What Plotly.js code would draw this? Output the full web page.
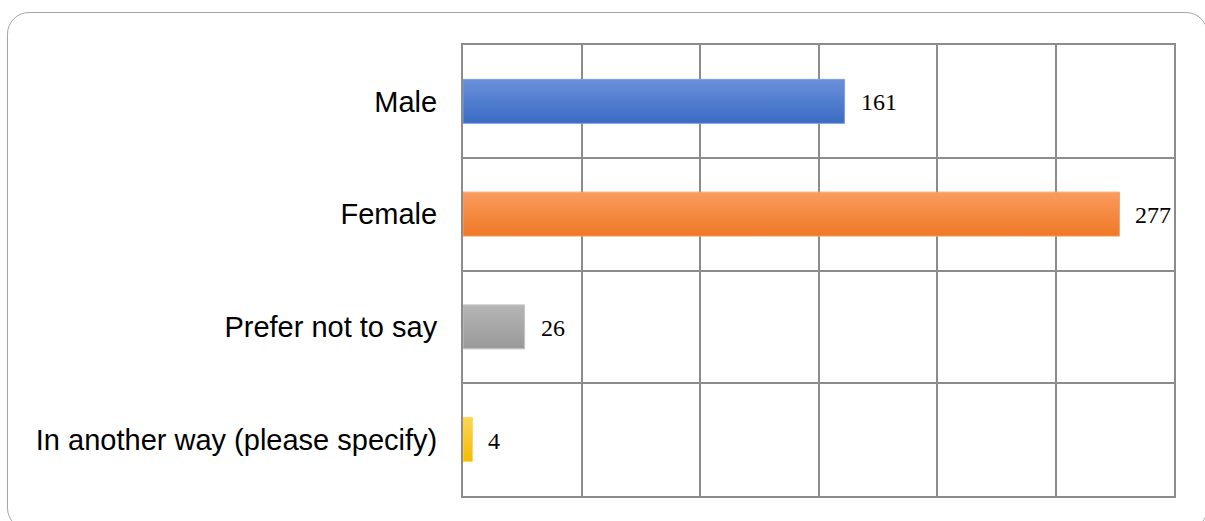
<!DOCTYPE html>
<html>
<head>
<meta charset="utf-8">
<script src="https://cdn.plot.ly/plotly-3.0.1.min.js"></script>
<style>
  html, body { margin: 0; padding: 0; background: #fff; overflow: hidden; }
  #frame { position: absolute; left: 7px; top: 12px; width: 1201px; height: 518px;
           border: 1.5px solid #a6a6a6; border-radius: 22px; box-sizing: border-box; }
  #chart { position: absolute; left: 0; top: 0; width: 1205px; height: 521px; }
</style>
</head>
<body>
<div id="frame"></div>
<div id="chart"></div>
<script>
const categories = ["Male", "Female", "Prefer not to say", "In another way (please specify)"];
const counts = [161, 277, 26, 4];
const barColors = ["#4a7bd3", "#f5863a", "#a8a8a8", "#fcc419"];
const gradTop = ["#6a90da", "#fa9c5e", "#b6b6b6", "#ffd550"];
const gradBottom = ["#3a6bc4", "#ef7826", "#999999", "#f5bc00"];
const lineColors = ["#7a9ee0", "#f9a26a", "#c4c4c4", "#ffd75a"];
const xTicks = [0, 50, 100, 150, 200, 250, 300];

const trace = {
  type: "bar",
  orientation: "h",
  y: categories,
  x: counts,
  marker: { color: barColors, line: { color: lineColors, width: 1 } },
  width: 0.39,
  hoverinfo: "none"
};

const annotations = categories.map((c, i) => ({
  x: counts[i], y: c, xref: "x", yref: "y",
  text: String(counts[i]), showarrow: false,
  xanchor: "left", yanchor: "middle", xshift: 14, yshift: -1,
  font: { family: "Liberation Serif, Times New Roman, serif", size: 24, color: "#000" }
}));

const layout = {
  width: 1205, height: 521,
  margin: { l: 463, r: 31, t: 45, b: 25, pad: 0 },
  paper_bgcolor: "rgba(0,0,0,0)",
  plot_bgcolor: "rgba(0,0,0,0)",
  showlegend: false,
  xaxis: {
    range: [0, 300], tickvals: xTicks, showticklabels: false,
    showgrid: true, gridcolor: "#8c8c8c", gridwidth: 2,
    zeroline: false, showline: true, linecolor: "#8c8c8c", linewidth: 2, mirror: true,
    fixedrange: true
  },
  yaxis: {
    autorange: "reversed", type: "category", tickson: "boundaries",
    showgrid: true, gridcolor: "#8c8c8c", gridwidth: 2,
    showline: true, linecolor: "#8c8c8c", linewidth: 2, mirror: true,
    ticks: "", ticklabelstandoff: 18,
    tickfont: { family: "Liberation Sans, Arial, sans-serif", size: 29, color: "#000" },
    fixedrange: true
  },
  annotations: annotations
};

Plotly.newPlot("chart", [trace], layout, { displayModeBar: false, staticPlot: true }).then(gd => {
  // vertical gradient fills for the bars, as in the reference
  const svg = gd.querySelector("svg.main-svg");
  const ns = "http://www.w3.org/2000/svg";
  let defs = svg.querySelector("defs");
  if (!defs) { defs = document.createElementNS(ns, "defs"); svg.insertBefore(defs, svg.firstChild); }
  gradTop.forEach((top, i) => {
    const g = document.createElementNS(ns, "linearGradient");
    g.setAttribute("id", "barGrad" + i);
    g.setAttribute("x1", "0"); g.setAttribute("y1", "0");
    g.setAttribute("x2", "0"); g.setAttribute("y2", "1");
    [[0, top], [1, gradBottom[i]]].forEach(([o, c]) => {
      const s = document.createElementNS(ns, "stop");
      s.setAttribute("offset", String(o)); s.setAttribute("stop-color", c);
      g.appendChild(s);
    });
    defs.appendChild(g);
  });
  gd.querySelectorAll(".barlayer .point path").forEach((p, i) => {
    p.style.fill = "url(#barGrad" + i + ")";
  });
});
</script>
</body>
</html>
